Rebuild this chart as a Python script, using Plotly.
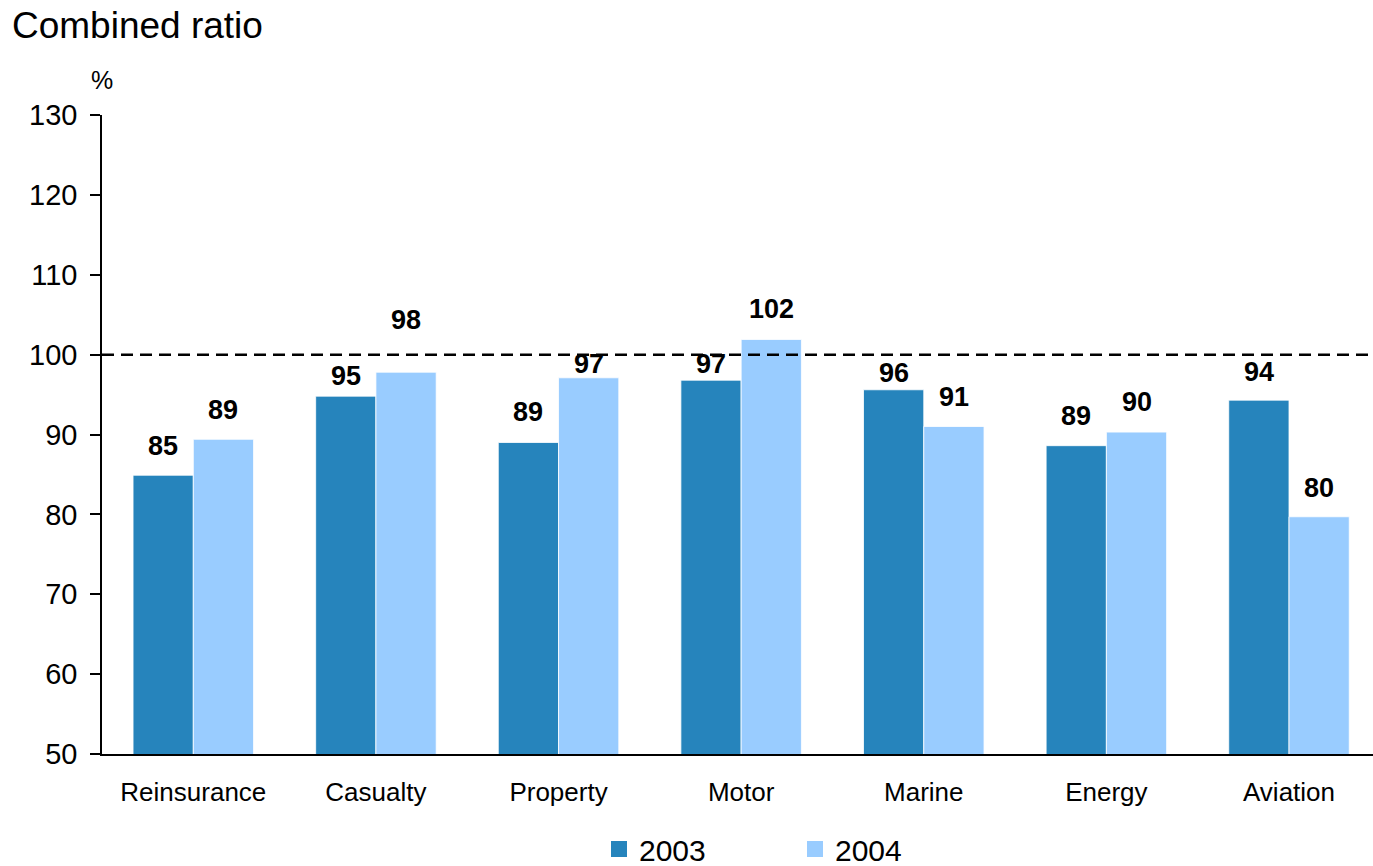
import plotly.graph_objects as go

# Combined ratio by line of business, 2003 vs 2004 (%)
categories = ["Reinsurance", "Casualty", "Property", "Motor", "Marine", "Energy", "Aviation"]
ratio_2003 = [84.9, 94.8, 89.0, 96.8, 95.6, 88.6, 94.3]
ratio_2004 = [89.4, 97.8, 97.1, 101.9, 91.0, 90.3, 79.7]
series_names = ["2003", "2004"]
y_ticks = [50, 60, 70, 80, 90, 100, 110, 120, 130]

# label lift above each bar top (px), nudged where labels meet the 100% line
lift_2003 = [29, 20, 30, 16, 17, 30, 28]
lift_2004 = [29, 52, 14, 30, 30, 30, 29]

COL_2003 = "#2684BC"
COL_2004 = "#99CCFF"
FONT = "Liberation Sans, Arial, sans-serif"
BARGAP = 0.34
HALF = (1 - BARGAP) / 4  # offset of each bar centre from its category centre

fig = go.Figure()
for name, vals, col in [(series_names[0], ratio_2003, COL_2003),
                        (series_names[1], ratio_2004, COL_2004)]:
    fig.add_trace(go.Bar(
        x=categories, y=vals, name=name, showlegend=False,
        marker=dict(color=col, line=dict(color="rgba(255,255,255,0.8)", width=1)),
        hoverinfo="skip",
    ))
    # legend swatch
    fig.add_trace(go.Scatter(
        x=[None], y=[None], mode="markers", name=name,
        marker=dict(symbol="square", size=16, color=col),
    ))

annotations = []
for vals, lifts, sign in [(ratio_2003, lift_2003, -1), (ratio_2004, lift_2004, 1)]:
    for i, (v, lift) in enumerate(zip(vals, lifts)):
        annotations.append(dict(
            x=i + sign * HALF, y=v, xref="x", yref="y",
            text=f"<b>{v:.0f}</b>", showarrow=False,
            xanchor="center", yanchor="middle", yshift=lift,
            font=dict(family=FONT, size=27, color="#000000"),
        ))

annotations.append(dict(
    x=0, y=1, xref="paper", yref="paper", text="%", showarrow=False,
    xanchor="center", yanchor="middle", yshift=35,
    font=dict(family=FONT, size=25, color="#000000"),
))

fig.update_layout(
    width=1373, height=866,
    margin=dict(l=102, r=0, t=115, b=112, autoexpand=False),
    paper_bgcolor="white", plot_bgcolor="white",
    barmode="group", bargap=BARGAP, bargroupgap=0,
    title=dict(text="Combined ratio", x=12 / 1373, xanchor="left", xref="container",
               y=1 - 25 / 866, yanchor="middle", yref="container",
               font=dict(family=FONT, size=37, color="#000000")),
    font=dict(family=FONT, color="#000000"),
    xaxis=dict(
        type="category", range=[-0.5, 6.46], showgrid=False, zeroline=False,
        showline=True, linecolor="#000000", linewidth=1.5,
        ticks="", tickfont=dict(size=26, family=FONT), ticklabelstandoff=14,
    ),
    yaxis=dict(
        range=[50, 130], tickvals=y_ticks, showgrid=False, zeroline=False,
        showline=True, linecolor="#000000", linewidth=1.5,
        ticks="outside", ticklen=10, tickwidth=1.5, tickcolor="#000000",
        tickfont=dict(size=29, family=FONT), ticklabelstandoff=7,
    ),
    legend=dict(
        orientation="h", x=599 / 1373, xanchor="left", xref="container",
        y=17 / 866, yanchor="middle", yref="container",
        font=dict(family=FONT, size=30), entrywidth=151, entrywidthmode="pixels",
        bgcolor="rgba(0,0,0,0)",
    ),
    shapes=[dict(type="line", xref="paper", x0=0, x1=1, yref="y", y0=100, y1=100,
                 line=dict(color="#000000", width=2.5, dash="12px,7px"))],
    annotations=annotations,
)

fig.write_html("out.html")
